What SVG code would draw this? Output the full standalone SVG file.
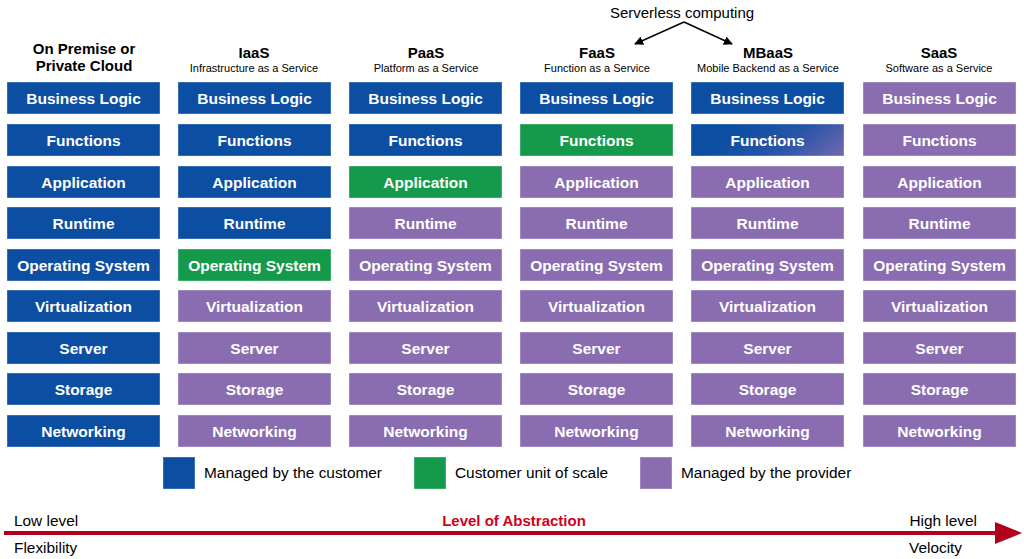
<svg xmlns="http://www.w3.org/2000/svg" width="1024" height="559" viewBox="0 0 1024 559">
<defs>
<style>
.b{stroke:#ffffff;stroke-opacity:0.35;stroke-width:1}
.cu{fill:#0b4ea2}
.sc{fill:#149a4a}
.pr{fill:#8a6db1}
.t{font-family:"Liberation Sans",Arial,sans-serif;font-weight:bold;font-size:15.5px;fill:#ffffff;text-anchor:middle}
.h{font-family:"Liberation Sans",Arial,sans-serif;font-weight:bold;font-size:15px;fill:#000;text-anchor:middle}
.s{font-family:"Liberation Sans",Arial,sans-serif;font-size:11px;fill:#000;text-anchor:middle}
.l{font-family:"Liberation Sans",Arial,sans-serif;font-size:15.4px;fill:#000}
</style>
<linearGradient id="grad" gradientUnits="userSpaceOnUse" x1="770" y1="100" x2="835" y2="180">
<stop offset="0" stop-color="#0b4ea2"/>
<stop offset="0.45" stop-color="#2a55a8"/>
<stop offset="1" stop-color="#8a6db1"/>
</linearGradient>
<marker id="ah" viewBox="0 0 10 10" refX="9" refY="5" markerWidth="9" markerHeight="9" markerUnits="userSpaceOnUse" orient="auto">
<path d="M0,0 L10,5 L0,10 z" fill="#000"/>
</marker>
</defs>
<rect width="1024" height="559" fill="#ffffff"/>

<g id="headers">
<text class="h" x="84" y="54">On Premise or</text>
<text class="h" x="84" y="71">Private Cloud</text>
<text class="h" x="254" y="58">IaaS</text>
<text class="s" x="254" y="72">Infrastructure as a Service</text>
<text class="h" x="426" y="58">PaaS</text>
<text class="s" x="426" y="72">Platform as a Service</text>
<text class="h" x="597" y="58">FaaS</text>
<text class="s" x="597" y="72">Function as a Service</text>
<text class="h" x="768" y="58">MBaaS</text>
<text class="s" x="768" y="72">Mobile Backend as a Service</text>
<text class="h" x="939" y="58">SaaS</text>
<text class="s" x="939" y="72">Software as a Service</text>
</g>

<g id="serverless">
<text x="682" y="18" font-family="Liberation Sans, Arial, sans-serif" font-size="15" text-anchor="middle" fill="#000">Serverless computing</text>
</g>

<g id="connectors" stroke="#000" stroke-width="1.4" fill="none">
<line x1="684" y1="22" x2="635" y2="44" marker-end="url(#ah)"/>
<line x1="684" y1="22" x2="732" y2="44" marker-end="url(#ah)"/>
</g>

<g id="col-onprem">
<rect class="b cu" x="7" y="82" width="153" height="32"/><text class="t" x="83.5" y="103.5">Business Logic</text>
<rect class="b cu" x="7" y="124" width="153" height="32"/><text class="t" x="83.5" y="145.5">Functions</text>
<rect class="b cu" x="7" y="166" width="153" height="32"/><text class="t" x="83.5" y="187.5">Application</text>
<rect class="b cu" x="7" y="207" width="153" height="32"/><text class="t" x="83.5" y="228.5">Runtime</text>
<rect class="b cu" x="7" y="249" width="153" height="32"/><text class="t" x="83.5" y="270.5">Operating System</text>
<rect class="b cu" x="7" y="290" width="153" height="32"/><text class="t" x="83.5" y="311.5">Virtualization</text>
<rect class="b cu" x="7" y="332" width="153" height="32"/><text class="t" x="83.5" y="353.5">Server</text>
<rect class="b cu" x="7" y="373" width="153" height="32"/><text class="t" x="83.5" y="394.5">Storage</text>
<rect class="b cu" x="7" y="415" width="153" height="32"/><text class="t" x="83.5" y="436.5">Networking</text>
</g>

<g id="col-iaas">
<rect class="b cu" x="178" y="82" width="153" height="32"/><text class="t" x="254.5" y="103.5">Business Logic</text>
<rect class="b cu" x="178" y="124" width="153" height="32"/><text class="t" x="254.5" y="145.5">Functions</text>
<rect class="b cu" x="178" y="166" width="153" height="32"/><text class="t" x="254.5" y="187.5">Application</text>
<rect class="b cu" x="178" y="207" width="153" height="32"/><text class="t" x="254.5" y="228.5">Runtime</text>
<rect class="b sc" x="178" y="249" width="153" height="32"/><text class="t" x="254.5" y="270.5">Operating System</text>
<rect class="b pr" x="178" y="290" width="153" height="32"/><text class="t" x="254.5" y="311.5">Virtualization</text>
<rect class="b pr" x="178" y="332" width="153" height="32"/><text class="t" x="254.5" y="353.5">Server</text>
<rect class="b pr" x="178" y="373" width="153" height="32"/><text class="t" x="254.5" y="394.5">Storage</text>
<rect class="b pr" x="178" y="415" width="153" height="32"/><text class="t" x="254.5" y="436.5">Networking</text>
</g>

<g id="col-paas">
<rect class="b cu" x="349" y="82" width="153" height="32"/><text class="t" x="425.5" y="103.5">Business Logic</text>
<rect class="b cu" x="349" y="124" width="153" height="32"/><text class="t" x="425.5" y="145.5">Functions</text>
<rect class="b sc" x="349" y="166" width="153" height="32"/><text class="t" x="425.5" y="187.5">Application</text>
<rect class="b pr" x="349" y="207" width="153" height="32"/><text class="t" x="425.5" y="228.5">Runtime</text>
<rect class="b pr" x="349" y="249" width="153" height="32"/><text class="t" x="425.5" y="270.5">Operating System</text>
<rect class="b pr" x="349" y="290" width="153" height="32"/><text class="t" x="425.5" y="311.5">Virtualization</text>
<rect class="b pr" x="349" y="332" width="153" height="32"/><text class="t" x="425.5" y="353.5">Server</text>
<rect class="b pr" x="349" y="373" width="153" height="32"/><text class="t" x="425.5" y="394.5">Storage</text>
<rect class="b pr" x="349" y="415" width="153" height="32"/><text class="t" x="425.5" y="436.5">Networking</text>
</g>

<g id="col-faas">
<rect class="b cu" x="520" y="82" width="153" height="32"/><text class="t" x="596.5" y="103.5">Business Logic</text>
<rect class="b sc" x="520" y="124" width="153" height="32"/><text class="t" x="596.5" y="145.5">Functions</text>
<rect class="b pr" x="520" y="166" width="153" height="32"/><text class="t" x="596.5" y="187.5">Application</text>
<rect class="b pr" x="520" y="207" width="153" height="32"/><text class="t" x="596.5" y="228.5">Runtime</text>
<rect class="b pr" x="520" y="249" width="153" height="32"/><text class="t" x="596.5" y="270.5">Operating System</text>
<rect class="b pr" x="520" y="290" width="153" height="32"/><text class="t" x="596.5" y="311.5">Virtualization</text>
<rect class="b pr" x="520" y="332" width="153" height="32"/><text class="t" x="596.5" y="353.5">Server</text>
<rect class="b pr" x="520" y="373" width="153" height="32"/><text class="t" x="596.5" y="394.5">Storage</text>
<rect class="b pr" x="520" y="415" width="153" height="32"/><text class="t" x="596.5" y="436.5">Networking</text>
</g>

<g id="col-mbaas">
<rect class="b cu" x="691" y="82" width="153" height="32"/><text class="t" x="767.5" y="103.5">Business Logic</text>
<rect class="b" fill="url(#grad)" x="691" y="124" width="153" height="32"/><text class="t" x="767.5" y="145.5">Functions</text>
<rect class="b pr" x="691" y="166" width="153" height="32"/><text class="t" x="767.5" y="187.5">Application</text>
<rect class="b pr" x="691" y="207" width="153" height="32"/><text class="t" x="767.5" y="228.5">Runtime</text>
<rect class="b pr" x="691" y="249" width="153" height="32"/><text class="t" x="767.5" y="270.5">Operating System</text>
<rect class="b pr" x="691" y="290" width="153" height="32"/><text class="t" x="767.5" y="311.5">Virtualization</text>
<rect class="b pr" x="691" y="332" width="153" height="32"/><text class="t" x="767.5" y="353.5">Server</text>
<rect class="b pr" x="691" y="373" width="153" height="32"/><text class="t" x="767.5" y="394.5">Storage</text>
<rect class="b pr" x="691" y="415" width="153" height="32"/><text class="t" x="767.5" y="436.5">Networking</text>
</g>

<g id="col-saas">
<rect class="b pr" x="863" y="82" width="153" height="32"/><text class="t" x="939.5" y="103.5">Business Logic</text>
<rect class="b pr" x="863" y="124" width="153" height="32"/><text class="t" x="939.5" y="145.5">Functions</text>
<rect class="b pr" x="863" y="166" width="153" height="32"/><text class="t" x="939.5" y="187.5">Application</text>
<rect class="b pr" x="863" y="207" width="153" height="32"/><text class="t" x="939.5" y="228.5">Runtime</text>
<rect class="b pr" x="863" y="249" width="153" height="32"/><text class="t" x="939.5" y="270.5">Operating System</text>
<rect class="b pr" x="863" y="290" width="153" height="32"/><text class="t" x="939.5" y="311.5">Virtualization</text>
<rect class="b pr" x="863" y="332" width="153" height="32"/><text class="t" x="939.5" y="353.5">Server</text>
<rect class="b pr" x="863" y="373" width="153" height="32"/><text class="t" x="939.5" y="394.5">Storage</text>
<rect class="b pr" x="863" y="415" width="153" height="32"/><text class="t" x="939.5" y="436.5">Networking</text>
</g>

<g id="legend">
<rect class="b cu" x="163" y="457" width="32" height="32"/>
<text class="l" x="204" y="478">Managed by the customer</text>
<rect class="b sc" x="414" y="457" width="32" height="32"/>
<text class="l" x="455" y="478">Customer unit of scale</text>
<rect class="b pr" x="640" y="457" width="32" height="32"/>
<text class="l" x="681" y="478">Managed by the provider</text>
</g>

<g id="abstraction">
<line x1="4" y1="533" x2="997" y2="533" stroke="#b0001e" stroke-width="4"/>
<polygon points="995,522 1022,533 995,544" fill="#b0001e"/>
<text class="l" x="14" y="526">Low level</text>
<text class="l" x="14" y="553">Flexibility</text>
<text class="l" x="977" y="526" text-anchor="end">High level</text>
<text class="l" x="909" y="553">Velocity</text>
<text x="514" y="526" font-family="Liberation Sans, Arial, sans-serif" font-weight="bold" font-size="15" fill="#d0021b" text-anchor="middle">Level of Abstraction</text>
</g>
</svg>
